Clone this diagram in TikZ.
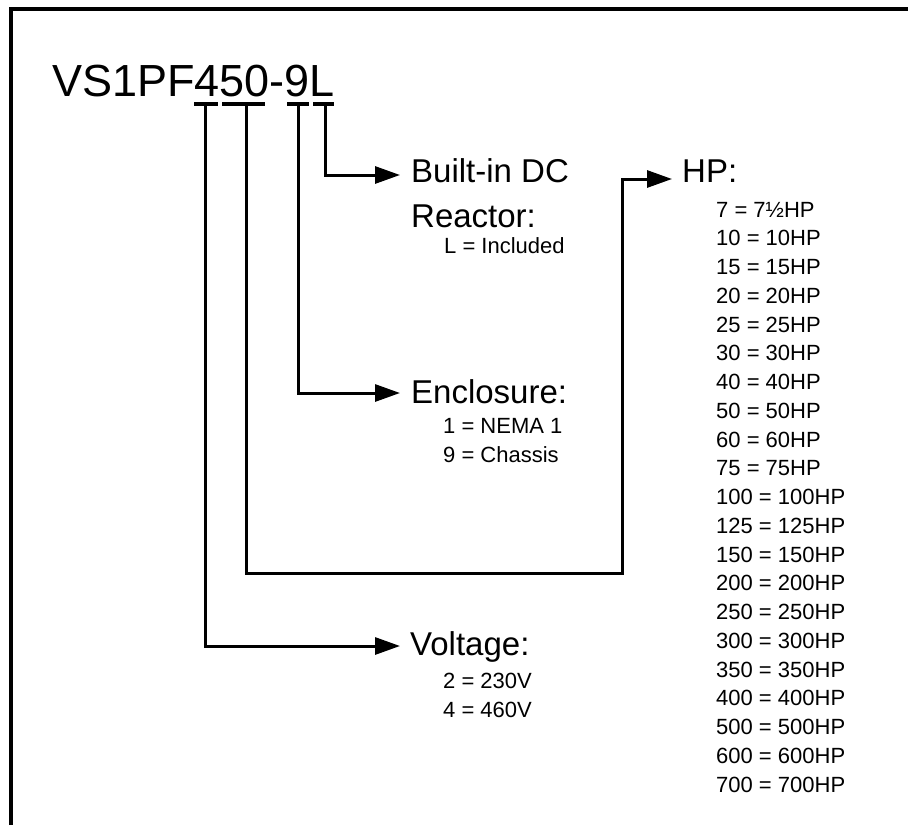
\documentclass[tikz,border=0pt]{standalone}
\usepackage{fontspec}
\setmainfont{Liberation Sans}
\usetikzlibrary{arrows.meta}
\begin{document}
\begin{tikzpicture}[x=1pt,y=-1pt,
  conn/.style={line width=3pt,-{Triangle[length=25pt,width=17pt]}},
  brk/.style={line width=4pt},
  title/.style={anchor=base west,inner sep=0pt,font=\fontsize{45}{50}\selectfont},
  big/.style={anchor=base west,inner sep=0pt,font=\fontsize{33}{38}\selectfont},
  small/.style={anchor=base west,inner sep=0pt,font=\fontsize{22}{26}\selectfont}]
\useasboundingbox (0,0) rectangle (908,825);
% frame
\draw[line width=3.5pt] (11,825) -- (11,9) -- (908,9);
% title
\node[title] (code) at (52,96) {VS1PF450-9L};
% brackets
\draw[brk] (194,104) -- (218,104);
\draw[brk] (222,104) -- (265,104);
\draw[brk] (287,104) -- (309,104);
\draw[brk] (313,104) -- (334,104);
\coordinate (b4) at (205,104);
\coordinate (b50) at (246,104);
\coordinate (b9) at (298,104);
\coordinate (bL) at (325,104);
% arrow tips
\coordinate (tR) at (400,175);
\coordinate (tE) at (400,393);
\coordinate (tV) at (400,646);
\coordinate (hA) at (246,573);
\coordinate (hB) at (622,573);
\coordinate (hC) at (622,179);
\coordinate (tH) at (672,179);
% labels
\node[big] (reac1) at (411,182) {Built-in DC};
\node[big] (reac2) at (411,227) {Reactor:};
\node[small] (reacL) at (444,253) {L = Included};
\node[big] (encl) at (411,403) {Enclosure:};
\node[small] (encl1) at (443,433) {1 = NEMA 1};
\node[small] (encl9) at (443,462) {9 = Chassis};
\node[big] (volt) at (410,655) {Voltage:};
\node[small] (volt2) at (443,688) {2 = 230V};
\node[small] (volt4) at (443,717) {4 = 460V};
\node[big] (hp) at (682,182) {HP:};
\foreach \t [count=\i from 0] in {7 = 7½HP,10 = 10HP,15 = 15HP,20 = 20HP,25 = 25HP,30 = 30HP,40 = 40HP,50 = 50HP,60 = 60HP,75 = 75HP,100 = 100HP,125 = 125HP,150 = 150HP,200 = 200HP,250 = 250HP,300 = 300HP,350 = 350HP,400 = 400HP,500 = 500HP,600 = 600HP,700 = 700HP}
  \node[small] (hp\i) at (716,217+28.75*\i) {\t};
% connectors
\draw[conn] (bL) |- (tR);
\draw[conn] (b9) |- (tE);
\draw[conn] (b4) |- (tV);
\draw[conn] (b50) -- (hA) -- (hB) -- (hC) -- (tH);
\end{tikzpicture}
\end{document}
